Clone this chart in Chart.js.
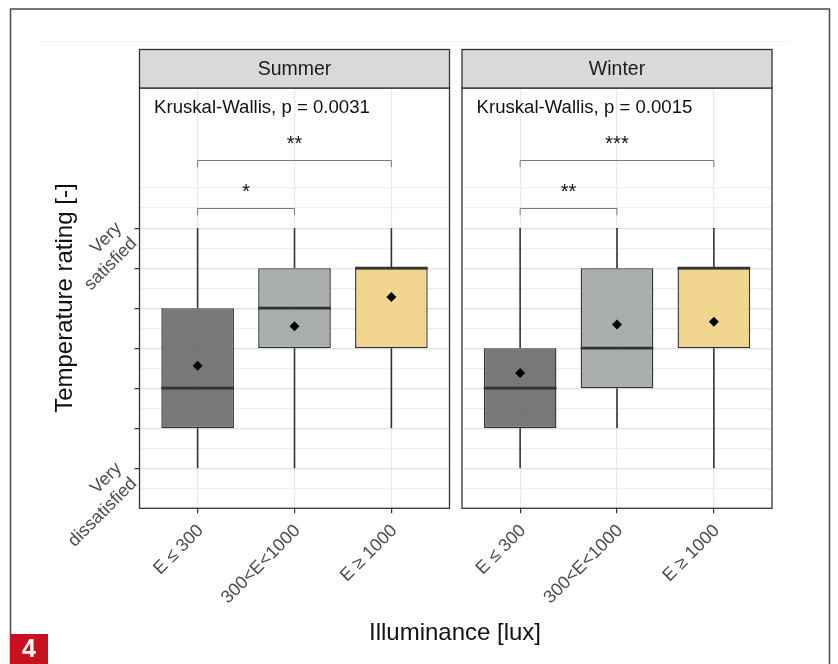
<!DOCTYPE html>
<html lang="en">
<head>
<meta charset="utf-8" />
<title>Temperature rating by illuminance</title>
<script src="https://cdn.jsdelivr.net/npm/chart.js"></script>
<style>
  body { margin: 0; background: #fff; }
  #wrap { position: relative; width: 838px; height: 664px; }
  #wrap canvas { position: absolute; left: 0; top: 0; }
</style>
</head>
<body>
<div id="wrap">
  <canvas id="summerChart" width="838" height="664"></canvas>
  <canvas id="winterChart" width="838" height="664"></canvas>
</div>
<script>
// categories on the x axis (positions 1, 2, 3)
var categories = ['E ≤ 300', '300<E<1000', 'E ≥ 1000'];
var categoryPos = [1, 2, 3];

// box statistics (rating scale 1..7)
var summerMin    = [1, 1, 2];
var summerQ1     = [2, 4, 4];
var summerMedian = [3, 5, 6];
var summerQ3     = [5, 6, 6];
var summerMax    = [7, 7, 7];
var summerMean   = [3.56, 4.55, 5.28];

var winterMin    = [1, 2, 1];
var winterQ1     = [2, 3, 4];
var winterMedian = [3, 4, 6];
var winterQ3     = [4, 6, 6];
var winterMax    = [7, 7, 7];
var winterMean   = [3.38, 4.59, 4.66];

// pairwise comparison brackets
var bracketFrom = [1, 1];
var bracketTo   = [2, 3];
var bracketY    = [7.5, 8.7];
var summerStars = ['*', '**'];
var winterStars = ['**', '***'];

var summerTest = 'Kruskal-Wallis, p = 0.0031';
var winterTest = 'Kruskal-Wallis, p = 0.0015';

// y axis ticks/grid
var yTickValues = [0.5, 1, 1.5, 2, 2.5, 3, 3.5, 4, 4.5, 5, 5.5, 6, 6.5, 7, 7.5, 8];
var yLabels = { 1: ['Very', 'dissatisfied'], 7: ['Very', 'satisfied'] };

var boxColors = ['rgba(106,109,110,0.92)', 'rgba(164,167,168,0.92)', 'rgba(241,209,134,0.92)'];
var ink = '#333333';
var fontFamily = '"Liberation Sans", Arial, sans-serif';

function line(ctx, x1, y1, x2, y2) {
    ctx.beginPath();
    ctx.moveTo(x1, y1);
    ctx.lineTo(x2, y2);
    ctx.stroke();
}

function panelPlugin(p) {
    return {
        id: 'panelDecor',
        beforeDraw: function (chart) {
            if (!p.shared) return;
            var ctx = chart.ctx;
            ctx.save();
            ctx.fillStyle = '#ffffff';
            ctx.fillRect(0, 0, chart.width, chart.height);
            // faint plot background edge
            ctx.strokeStyle = '#f1f1f1';
            ctx.lineWidth = 1;
            line(ctx, 38, 41.5, 790, 41.5);
            // outer frame of the figure
            ctx.strokeStyle = '#4a4a4a';
            ctx.lineWidth = 1.5;
            ctx.strokeRect(10.5, 9, 819, 700);
            // figure number
            ctx.fillStyle = '#c8101f';
            ctx.fillRect(10, 634, 38, 30);
            ctx.fillStyle = '#ffffff';
            ctx.font = 'bold 25px ' + fontFamily;
            ctx.textAlign = 'center';
            ctx.textBaseline = 'middle';
            ctx.fillText('4', 29, 650);
            // shared x title
            ctx.fillStyle = '#111111';
            ctx.font = '24px ' + fontFamily;
            ctx.fillText('Illuminance [lux]', 455, 633);
            ctx.restore();
        },
        beforeDatasetsDraw: function (chart) {
            var ctx = chart.ctx, xs = chart.scales.x, ys = chart.scales.y;
            ctx.save();
            ctx.strokeStyle = ink;
            ctx.lineWidth = 1.6;
            for (var i = 0; i < categoryPos.length; i++) {
                var x = xs.getPixelForValue(categoryPos[i]);
                line(ctx, x, ys.getPixelForValue(p.q3[i]), x, ys.getPixelForValue(p.max[i]));
                line(ctx, x, ys.getPixelForValue(p.q1[i]), x, ys.getPixelForValue(p.min[i]));
            }
            ctx.restore();
        },
        afterDatasetsDraw: function (chart) {
            var ctx = chart.ctx, xs = chart.scales.x, ys = chart.scales.y, area = chart.chartArea;
            var bars = chart.getDatasetMeta(0).data;
            ctx.save();
            // medians
            ctx.strokeStyle = ink;
            ctx.lineWidth = 2.8;
            for (var i = 0; i < bars.length; i++) {
                var my = ys.getPixelForValue(p.median[i]);
                line(ctx, bars[i].x - bars[i].width / 2, my, bars[i].x + bars[i].width / 2, my);
            }
            // brackets and stars
            ctx.strokeStyle = '#7a7a7a';
            ctx.lineWidth = 1;
            ctx.fillStyle = '#111111';
            ctx.font = '20px ' + fontFamily;
            ctx.textAlign = 'center';
            ctx.textBaseline = 'alphabetic';
            for (var b = 0; b < bracketY.length; b++) {
                var x1 = xs.getPixelForValue(bracketFrom[b]);
                var x2 = xs.getPixelForValue(bracketTo[b]);
                var by = Math.round(ys.getPixelForValue(bracketY[b])) + 0.5;
                var drop = ys.getPixelForValue(bracketY[b] - 0.18);
                ctx.beginPath();
                ctx.moveTo(x1, drop);
                ctx.lineTo(x1, by);
                ctx.lineTo(x2, by);
                ctx.lineTo(x2, drop);
                ctx.stroke();
                ctx.fillText(p.stars[b], (x1 + x2) / 2, ys.getPixelForValue(bracketY[b] + 0.24));
            }
            // test label
            ctx.textAlign = 'left';
            ctx.textBaseline = 'middle';
            ctx.font = '18.6px ' + fontFamily;
            ctx.fillText(p.test, xs.getPixelForValue(0.55), ys.getPixelForValue(10));
            // panel frame
            ctx.strokeStyle = ink;
            ctx.lineWidth = 1.3;
            ctx.strokeRect(area.left, area.top, area.right - area.left, area.bottom - area.top);
            // strip
            ctx.fillStyle = '#d9d9d9';
            ctx.fillRect(area.left, 49.5, area.right - area.left, area.top - 49.5);
            ctx.strokeRect(area.left, 49.5, area.right - area.left, area.top - 49.5);
            ctx.fillStyle = '#1a1a1a';
            ctx.textAlign = 'center';
            ctx.font = '19.5px ' + fontFamily;
            ctx.fillText(p.name, (area.left + area.right) / 2, (49.5 + area.top) / 2 + 1);
            ctx.restore();
        }
    };
}

function makePanel(canvasId, p) {
    var boxData = [], meanData = [];
    for (var i = 0; i < categoryPos.length; i++) {
        boxData.push({ x: categoryPos[i], y: [p.q1[i], p.q3[i]] });
        meanData.push({ x: categoryPos[i], y: p.mean[i] });
    }
    return new Chart(document.getElementById(canvasId), {
        type: 'bar',
        data: {
            datasets: [{
                type: 'bar',
                data: boxData,
                backgroundColor: boxColors,
                borderColor: ink,
                borderWidth: 1.4,
                borderSkipped: false,
                barPercentage: 0.75,
                categoryPercentage: 1,
                order: 2
            }, {
                type: 'scatter',
                data: meanData,
                pointStyle: 'rectRot',
                pointRadius: 5,
                backgroundColor: '#000000',
                borderColor: '#000000',
                borderWidth: 0,
                order: 1
            }]
        },
        options: {
            responsive: false,
            animation: false,
            layout: { padding: { left: 0, top: 88, right: p.padRight, bottom: 0 } },
            plugins: { legend: { display: false }, tooltip: { enabled: false } },
            scales: {
                x: {
                    type: 'linear',
                    min: 0.4,
                    max: 3.6,
                    offset: false,
                    afterBuildTicks: function (scale) {
                        scale.ticks = categoryPos.map(function (v) { return { value: v }; });
                    },
                    afterFit: function (scale) { scale.height = 155.7; },
                    border: { display: false },
                    grid: { offset: false, color: '#e9e9e9', lineWidth: 1.2, tickColor: ink, tickLength: 5 },
                    ticks: {
                        autoSkip: false,
                        minRotation: 45,
                        maxRotation: 45,
                        padding: 7,
                        labelOffset: 3,
                        color: '#4d4d4d',
                        font: { size: 18, family: fontFamily },
                        callback: function (v) { return categories[categoryPos.indexOf(v)]; }
                    }
                },
                y: {
                    type: 'linear',
                    min: 0,
                    max: 10.5,
                    afterBuildTicks: function (scale) {
                        scale.ticks = yTickValues.map(function (v) { return { value: v }; });
                    },
                    afterFit: function (scale) { scale.width = p.axisWidth; },
                    border: { display: false },
                    grid: {
                        color: function (c) {
                            return c.tick && c.tick.value % 1 === 0 && c.tick.value <= 7 ? '#e4e4e4' : '#efefef';
                        },
                        lineWidth: 1.2,
                        drawTicks: p.shared,
                        tickLength: 5,
                        tickColor: function (c) {
                            return c.tick && c.tick.value % 1 === 0 && c.tick.value <= 7 ? ink : 'rgba(0,0,0,0)';
                        }
                    },
                    title: {
                        display: p.shared,
                        text: 'Temperature rating [-]',
                        color: '#111111',
                        font: { size: 24, family: fontFamily },
                        padding: { top: 51, bottom: 0 }
                    },
                    ticks: {
                        display: p.shared,
                        autoSkip: false,
                        minRotation: 45,
                        maxRotation: 45,
                        padding: 8,
                        labelOffset: 5,
                        color: '#4d4d4d',
                        font: { size: 18, family: fontFamily },
                        callback: function (v) { return yLabels[v] || ''; }
                    }
                }
            }
        },
        plugins: [panelPlugin(p)]
    });
}

makePanel('summerChart', {
    name: 'Summer', shared: true, axisWidth: 139.5, padRight: 388.5,
    min: summerMin, q1: summerQ1, median: summerMedian, q3: summerQ3, max: summerMax, mean: summerMean,
    stars: summerStars, test: summerTest
});
makePanel('winterChart', {
    name: 'Winter', shared: false, axisWidth: 462, padRight: 66,
    min: winterMin, q1: winterQ1, median: winterMedian, q3: winterQ3, max: winterMax, mean: winterMean,
    stars: winterStars, test: winterTest
});
</script>
</body>
</html>
